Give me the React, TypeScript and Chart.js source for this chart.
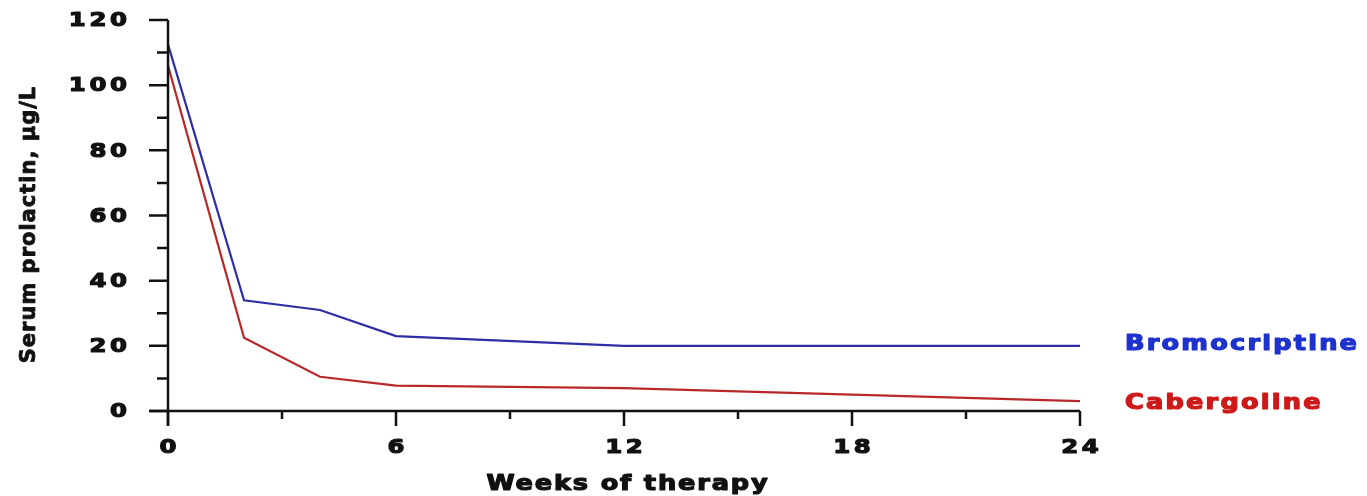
import React, { useEffect, useRef } from 'react';
import { Chart, registerables } from 'chart.js';

Chart.register(...registerables);

const weeks = [0, 2, 4, 6, 12, 18, 24];
const bromocriptine = [112.5, 34, 31, 23, 20, 20, 20];
const cabergoline = [106, 22.5, 10.5, 7.8, 7, 5, 3];
const xMajorTicks = [0, 6, 12, 18, 24];
const xMinorTicks = [3, 9, 15, 21];
const yMajorTicks = [0, 20, 40, 60, 80, 100, 120];
const yMinorTicks = [10, 30, 50, 70, 90, 110];
const seriesNames = ['Bromocriptine', 'Cabergoline'];
const xTitle = 'Weeks of therapy';
const yTitle = 'Serum prolactin, \u03BCg/L';

const BLUE_LINE = 'rgb(45,45,165)';
const RED_LINE = 'rgb(185,40,40)';
const BLUE_TEXT = 'rgb(30,50,205)';
const RED_TEXT = 'rgb(205,25,25)';
const FONT = '"DejaVu Sans", sans-serif';

function drawText(
  ctx: CanvasRenderingContext2D,
  text: string,
  x: number,
  y: number,
  opts: { spacing: number; scaleX: number; align: 'left' | 'center' | 'right'; stroke: number }
) {
  ctx.save();
  ctx.translate(x, y);
  ctx.scale(opts.scaleX, 1);
  (ctx as any).letterSpacing = opts.spacing + 'px';
  ctx.textAlign = 'left';
  const w = ctx.measureText(text).width - opts.spacing;
  let sx = 0;
  if (opts.align === 'center') sx = -w / 2;
  if (opts.align === 'right') sx = -w;
  ctx.fillText(text, sx, 0);
  if (opts.stroke > 0) {
    ctx.strokeStyle = ctx.fillStyle as string;
    ctx.lineWidth = opts.stroke;
    ctx.lineJoin = 'round';
    ctx.strokeText(text, sx, 0);
  }
  ctx.restore();
}

const decorPlugin = {
  id: 'decor',
  afterDraw(chart: any) {
    const ctx: CanvasRenderingContext2D = chart.ctx;
    const xs = chart.scales.x;
    const ys = chart.scales.y;
    const x0 = xs.getPixelForValue(0);
    const y0 = ys.getPixelForValue(0);
    const yTop = ys.getPixelForValue(120);
    const xEnd = xs.getPixelForValue(24);
    ctx.save();
    ctx.strokeStyle = '#111';
    ctx.lineWidth = 2.5;
    ctx.lineCap = 'butt';
    ctx.beginPath();
    ctx.moveTo(x0, yTop);
    ctx.lineTo(x0, y0 + 15);
    ctx.moveTo(x0 - 19, y0);
    ctx.lineTo(xEnd, y0);
    ctx.stroke();
    ctx.beginPath();
    yMajorTicks.forEach((v) => {
      const p = ys.getPixelForValue(v);
      ctx.moveTo(x0 - 19, p);
      ctx.lineTo(x0, p);
    });
    yMinorTicks.forEach((v) => {
      const p = ys.getPixelForValue(v);
      ctx.moveTo(x0 - 11, p);
      ctx.lineTo(x0, p);
    });
    xMajorTicks.forEach((v) => {
      const p = xs.getPixelForValue(v);
      ctx.moveTo(p, y0);
      ctx.lineTo(p, y0 + 15);
    });
    xMinorTicks.forEach((v) => {
      const p = xs.getPixelForValue(v);
      ctx.moveTo(p, y0);
      ctx.lineTo(p, y0 + 8);
    });
    ctx.stroke();

    ctx.fillStyle = '#111';
    ctx.textBaseline = 'middle';
    ctx.font = 'bold 20px ' + FONT;
    const tickOpts = { spacing: 3, scaleX: 1.22, align: 'right' as const, stroke: 1.2 };
    yMajorTicks.forEach((v) => {
      drawText(ctx, String(v), 127, ys.getPixelForValue(v) + 1, tickOpts);
    });
    xMajorTicks.forEach((v) => {
      drawText(ctx, String(v), xs.getPixelForValue(v), 448, { ...tickOpts, align: 'center' });
    });

    ctx.font = 'bold 21px ' + FONT;
    drawText(ctx, xTitle, (x0 + xEnd) / 2 + 3, 485, { spacing: 1.5, scaleX: 1.22, align: 'center', stroke: 1.2 });

    ctx.save();
    ctx.translate(30, 225);
    ctx.rotate(-Math.PI / 2);
    ctx.font = 'bold 21px ' + FONT;
    drawText(ctx, yTitle, 0, 0, { spacing: 1, scaleX: 1, align: 'center', stroke: 0.8 });
    ctx.restore();

    ctx.font = 'bold 21px ' + FONT;
    ctx.fillStyle = BLUE_TEXT;
    drawText(ctx, seriesNames[0], 1125, ys.getPixelForValue(bromocriptine[bromocriptine.length - 1]) - 1, {
      spacing: 1.8,
      scaleX: 1.22,
      align: 'left',
      stroke: 1.2,
    });
    ctx.fillStyle = RED_TEXT;
    drawText(ctx, seriesNames[1], 1125, ys.getPixelForValue(cabergoline[cabergoline.length - 1]) + 2, {
      spacing: 1.8,
      scaleX: 1.22,
      align: 'left',
      stroke: 1.2,
    });
    ctx.restore();
  },
};

export default function App() {
  const ref = useRef<HTMLCanvasElement | null>(null);
  useEffect(() => {
    if (!ref.current) return;
    const chart = new Chart(ref.current, {
      type: 'line',
      data: {
        datasets: [
          {
            label: seriesNames[0],
            data: weeks.map((w, i) => ({ x: w, y: bromocriptine[i] })),
            borderColor: BLUE_LINE,
            borderWidth: 2.2,
            pointRadius: 0,
            tension: 0,
            fill: false,
          },
          {
            label: seriesNames[1],
            data: weeks.map((w, i) => ({ x: w, y: cabergoline[i] })),
            borderColor: RED_LINE,
            borderWidth: 2.2,
            pointRadius: 0,
            tension: 0,
            fill: false,
          },
        ],
      },
      options: {
        animation: false,
        responsive: false,
        devicePixelRatio: 1,
        layout: { padding: { left: 0, top: 20, right: 287, bottom: 0 } },
        plugins: { legend: { display: false }, tooltip: { enabled: false } },
        scales: {
          x: {
            type: 'linear',
            min: 0,
            max: 24,
            grid: { display: false, drawTicks: false },
            border: { display: false },
            ticks: { display: false },
            afterFit: (s: any) => {
              s.height = 85;
            },
          },
          y: {
            type: 'linear',
            min: 0,
            max: 120,
            grid: { display: false, drawTicks: false },
            border: { display: false },
            ticks: { display: false },
            afterFit: (s: any) => {
              s.width = 168;
            },
          },
        },
      },
      plugins: [decorPlugin],
    });
    return () => chart.destroy();
  }, []);
  return (
    <div style={{ position: 'fixed', left: 0, top: 0, width: 1367, height: 496, background: '#fff' }}>
      <canvas ref={ref} width={1367} height={496} />
    </div>
  );
}
